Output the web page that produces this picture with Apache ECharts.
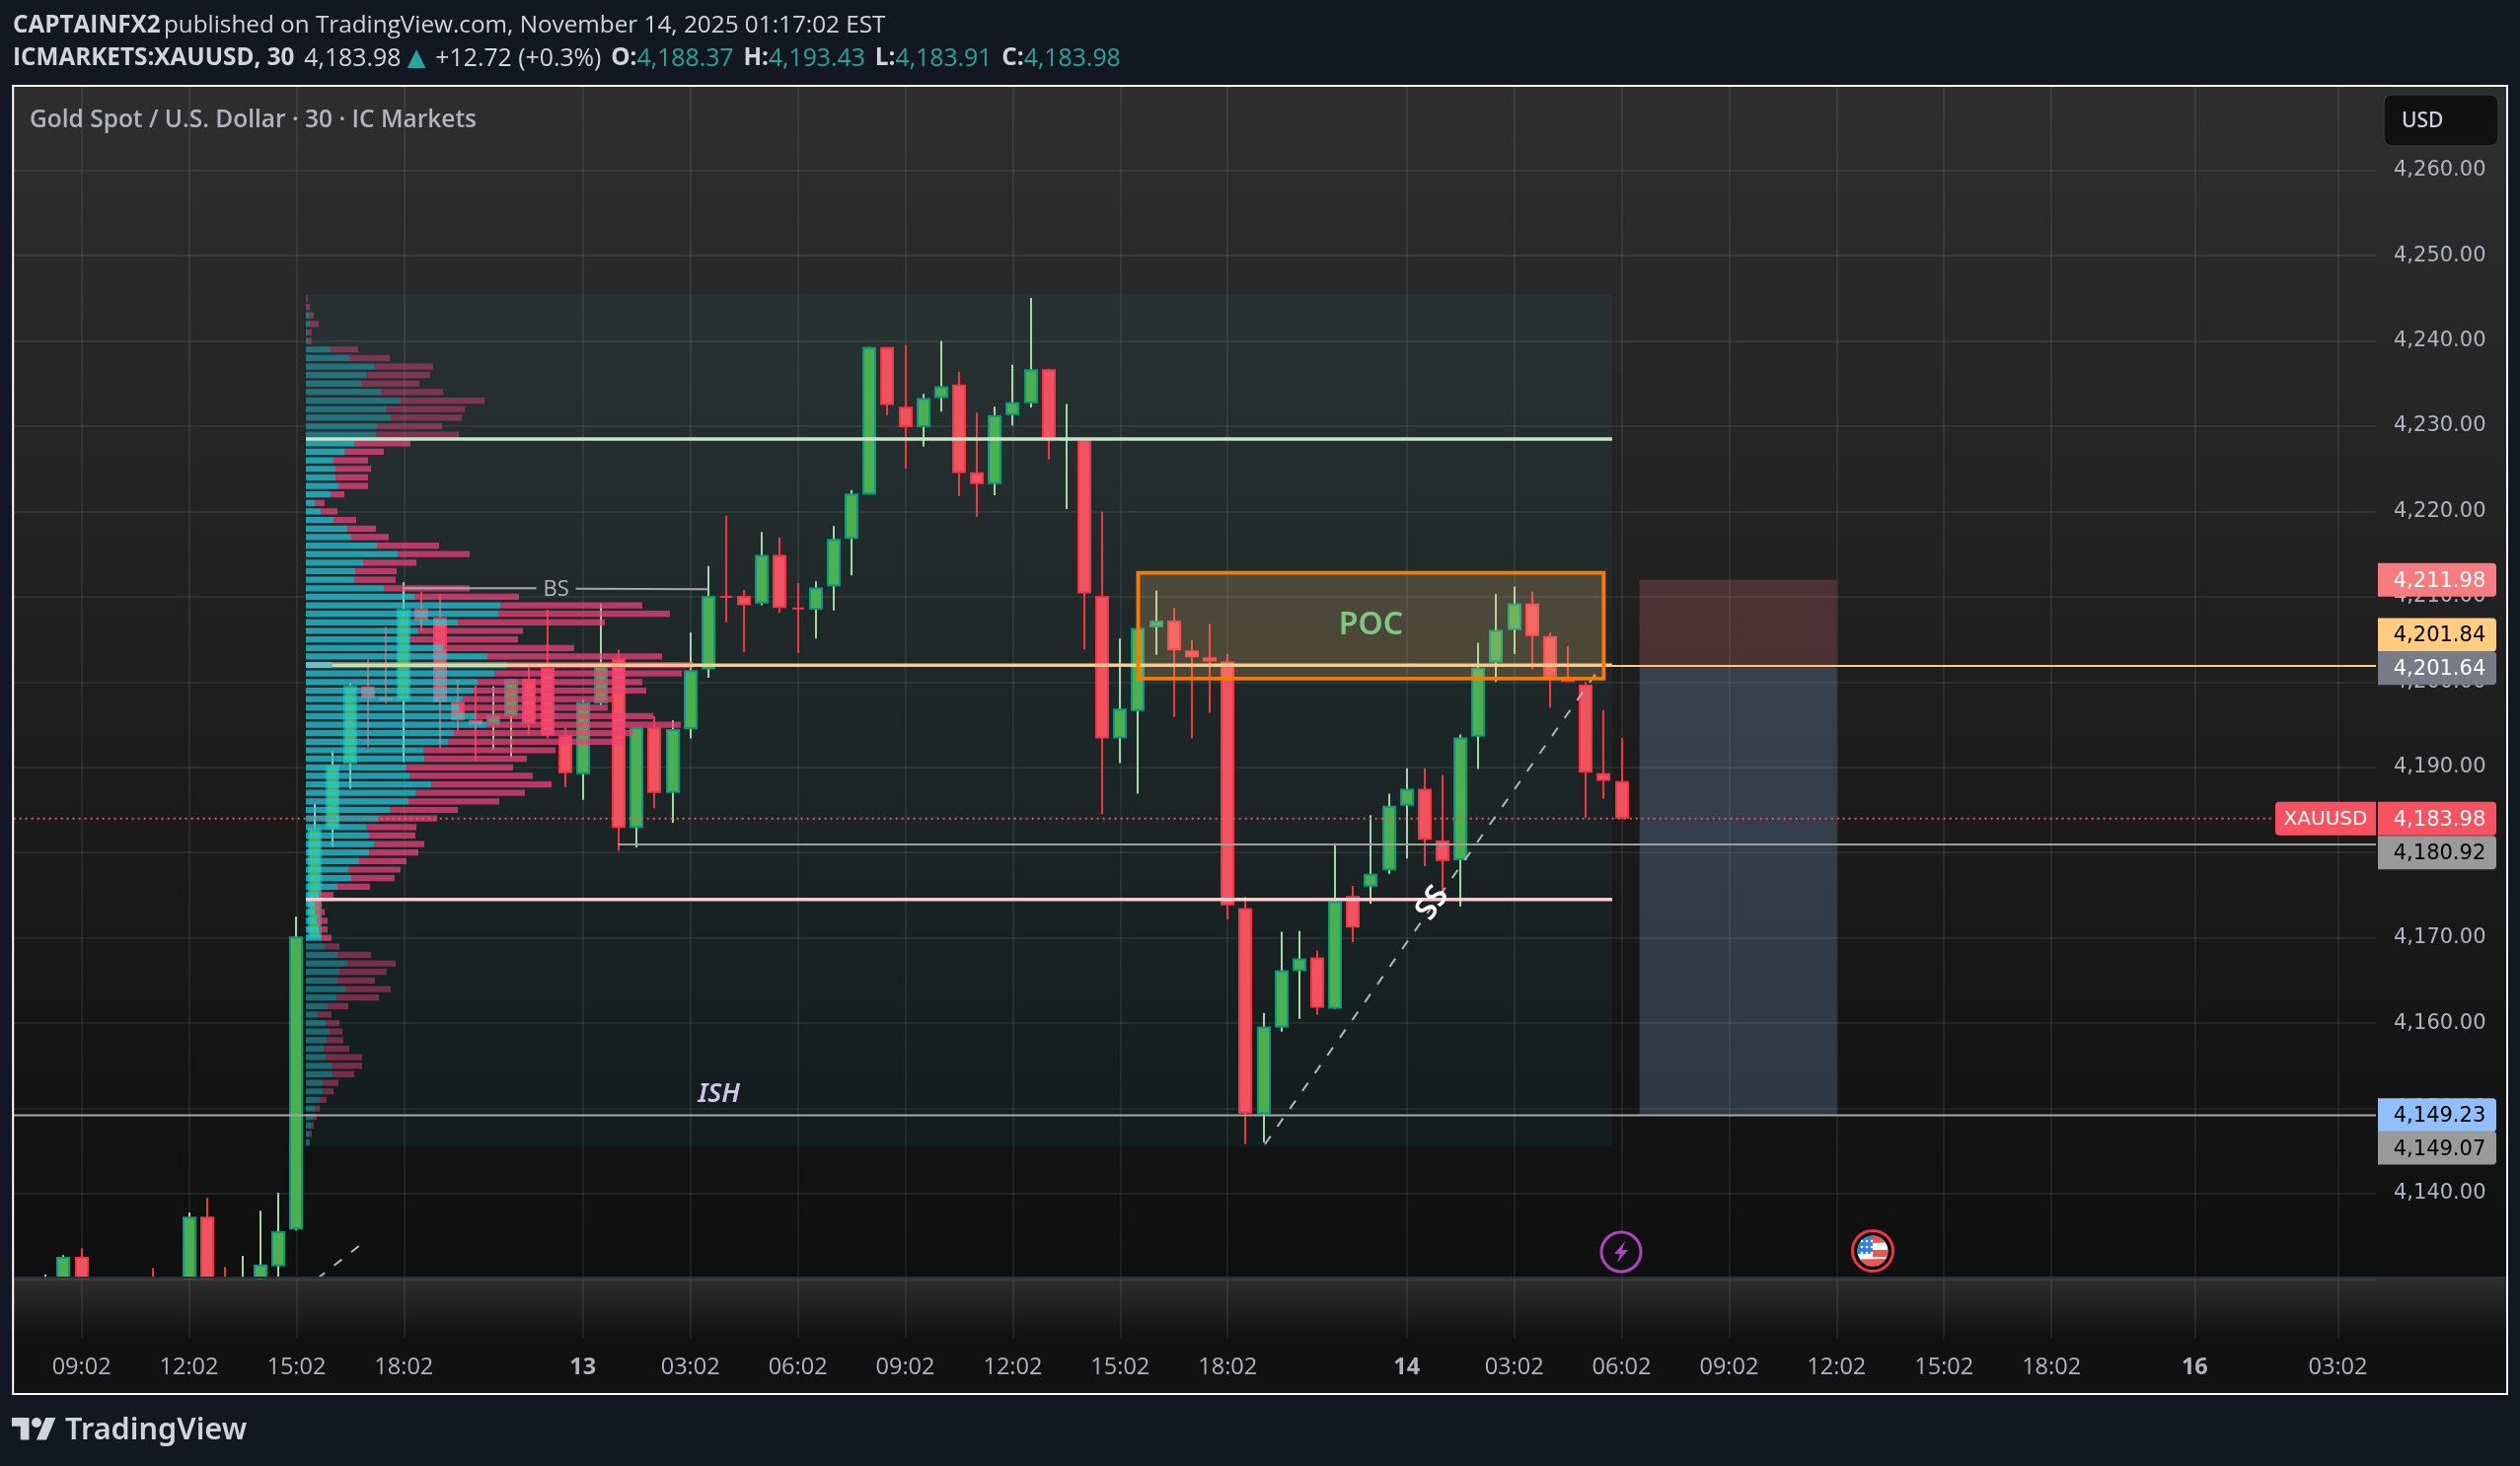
<!DOCTYPE html>
<html>
<head>
<meta charset="utf-8">
<style>html,body{margin:0;padding:0;background:#131722;}#c{width:2554px;height:1486px;}</style>
<script src="https://cdn.jsdelivr.net/npm/echarts@6/dist/echarts.min.js"></script>
</head>
<body>
<div id="c"></div>
<script>
// ---------- DATA ----------
const firstBar = -2;
const opens = [4126,4126,4132.6,4127,4126,4127,4128,4127,4128,4137.3,4129,4127,4129,4131.5,4135.8,4170,4182.8,4190.4,4199.5,4198.2,4197.8,4208.6,4207.6,4197.65,4195.6,4194.9,4196,4200.4,4201.7,4193.75,4189.2,4197.5,4202.8,4182.9,4194.7,4187,4194.5,4201.5,4210.1,4210.1,4209.2,4214.9,4208.75,4208.5,4211.2,4216.8,4222,4239.3,4232.3,4229.9,4233.3,4234.9,4224.6,4223.2,4231.3,4232.7,4236.7,4228.4,4228.4,4210.1,4193.4,4196.6,4206.4,4207.2,4203.7,4202.9,4202.4,4173.5,4149.3,4159.5,4166.1,4167.7,4161.7,4174.9,4176,4177.9,4185.5,4187.5,4181.4,4179.1,4193.6,4202.3,4206.1,4209.2,4205.4,4200.3,4199.7,4189.3,4188.37];
const highs = [4130.5,4132.8,4133.6,4129,4128,4129.5,4131.3,4129,4137.8,4139.5,4131.4,4132.7,4138,4140.1,4172.5,4185.7,4191.9,4199.9,4202.6,4206.5,4211.7,4210.6,4210.3,4200.2,4199.6,4199.5,4200.35,4201.7,4208.5,4194.7,4197.9,4209.2,4203.8,4194.7,4196,4195.5,4205.8,4213.6,4219.5,4210.8,4217.6,4217,4211.6,4211.8,4218.3,4222.5,4239.3,4239.3,4239.5,4233.8,4240,4236.4,4231.6,4232.3,4237.2,4245.05,4236.7,4232.6,4228.5,4220,4205.1,4206.4,4210.7,4208.7,4204.9,4206.8,4203.3,4174.8,4161.2,4170.7,4170.8,4168.5,4181.1,4176.1,4184.4,4186.9,4189.9,4189.9,4189.1,4193.86,4204.6,4210.3,4211.2,4210.6,4205.8,4204.2,4200,4196.7,4193.43];
const lows = [4125,4125,4126,4125,4124,4125,4125,4125,4127,4127,4126,4126,4128,4129,4135.7,4170,4180.7,4187.5,4192.4,4197.5,4190.6,4205.9,4192.2,4194.1,4190.7,4192.1,4191.2,4193.8,4193.4,4187.7,4186.2,4197.3,4180.2,4180.6,4185.2,4183.5,4193.4,4200.5,4207,4203.5,4209,4208.1,4203.4,4205.1,4208.4,4212.5,4222,4231.3,4225,4227.6,4231.7,4221.8,4219.4,4221.9,4230.1,4232.2,4226.1,4220.3,4203.8,4184.5,4190.5,4186.9,4203.2,4195.9,4193.4,4196.4,4172.2,4145.8,4146,4159,4160.5,4161,4161.7,4169.5,4174,4177.5,4179.3,4178.4,4174.7,4173.7,4189.8,4200,4203.3,4201.5,4197,4200,4184.1,4186.3,4183.91];
const closes = [4128,4132.6,4127,4126,4127,4126,4127,4128,4137.3,4129,4127,4129,4131.7,4135.6,4170.15,4182.9,4190.3,4199.6,4198.1,4197.8,4208.6,4207.3,4197.65,4195.5,4195,4196.1,4200.35,4195.1,4193.7,4189.3,4197.6,4202.1,4182.9,4194.7,4187,4194.5,4201.4,4210.1,4210,4209,4214.9,4208.7,4208.7,4211.1,4216.8,4222.1,4239.3,4232.5,4229.9,4233.3,4234.7,4224.5,4223.2,4231.3,4232.8,4236.7,4228.5,4228.5,4210.4,4193.4,4196.9,4206.35,4207.2,4203.7,4202.9,4202.4,4173.8,4149.4,4159.6,4166.2,4167.6,4161.8,4174.3,4171.2,4177.5,4185.5,4187.5,4181.5,4179,4193.5,4201.7,4206.1,4209.2,4205.4,4200.6,4200,4189.4,4188.4,4183.98];

const timeTicks = [0,6,12,18,28,34,40,46,52,58,64,74,80,86,92,98,104,110,118,126];
const timeLabels = ['09:02','12:02','15:02','18:02','13','03:02','06:02','09:02','12:02','15:02','18:02','14','03:02','06:02','09:02','12:02','15:02','18:02','16','03:02'];
const dayLabels = ['13','14','16'];

// Volume profile, one row per 1.00 of price, from the top row down
const profileTop = 4245;
const profileUp = [0,0,3.3,4,2,2,25,44,69,61,56,76,96,81,86,72,71,49,39,28,30,30,33,25,9,15,28,42,46,72,93,58,50,49,79,110,197,195,154,113,105,139,184,204,191,174,170,159,155,172,183,150,144,119,120,102,105,127,111,104,85,74,61,64,69,64,54,43,46,32,13,9,9,11,13,16,19,32,42,34,32,40,31,22,12,20,24,21,18,20,26,27,17,17,14,9,8,5,3,3];
const profileDown = [2,4,4.7,9,4,4,28,41,60,65,59,63,85,80,72,66,84,57,40,35,36,33,30,14,10,17,23,29,38,63,73,54,42,42,87,106,144,174,149,107,110,133,177,189,190,167,175,151,151,180,197,182,178,134,104,108,125,122,111,92,69,59,51,47,51,50,48,53,44,33,15,7,10,11,9,10,15,34,49,48,38,46,43,21,14,14,13,17,26,37,31,22,16,11,7,5,3,3,3,1];
const valueAreaHigh = 4228, valueAreaLow = 4170;
const profileBox = [12.53, 85.47, 4245.5, 4145.5];

const pocBox = [59, 85, 4212.8, 4200.4];
const riskBox = [87, 98, 4211.98, 4201.64];
const rewardBox = [87, 98, 4201.64, 4149.23];

// [bar from, price from, bar to, price to]
const levelSegments = [
  [12.53,4228.5,85.47,4228.5],
  [12.53,4174.5,85.47,4174.5],
  [14,4201.97,85.47,4201.97],
  [85.47,4201.9,128.2,4201.9],
  [29.95,4180.96,128.2,4180.96],
  [-3.8,4149.2,128.2,4149.2],
  [17.95,4211.0,25.4,4211.0],
  [27.6,4210.95,34.95,4210.9],
  [12.53,4202,14,4202],
  [-3.8,4183.98,122.3,4183.98],
  [66.08,4145.8,85,4202.3],
  [13.15,4130,15.57,4134]
];

const priceTagValues = [4211.98,4201.84,4201.64,4183.98,4180.92,4149.23,4149.07];
const priceTagTexts = ['4,211.98','4,201.84','4,201.64','4,183.98','4,180.92','4,149.23','4,149.07'];

const notes = [
  ['BS',26.5,4210.85],
  ['POC',72,4206.67],
  ['SS',75.45,4174.06],
  ['ISH',35.6,4151.65]
];

// ---------- STYLES ----------
const GREEN={body:'#4caf50',edge:'#089981',wick:'#a5d6a7'};
const RED={body:'#f0525f',edge:'#f23645',wick:'#f23645'};
const segStyles=[
  {s:'#c8e6c9',w:3.4},{s:'#f8cdd0',w:3.4},{s:'#ffcc80',w:3.4},{s:'#ffcc80',w:2},
  {s:'#9e9e9e',w:2},{s:'#a8a8a8',w:2},{s:'#a8a8a8',w:2},{s:'#a8a8a8',w:2},
  {s:'rgba(210,240,230,0.4)',w:6},{s:'#f7525f',w:2,d:[2,4]},
  {s:'#b2b5be',w:2,d:[10,12]},{s:'#b2b5be',w:2,d:[10,12]}
];
const tagStyles=[
  {bg:'#f77c80',fg:'#ffffff',dy:0},{bg:'#ffcc80',fg:'#000000',dy:-32},{bg:'#787b86',fg:'#ffffff',dy:0},
  {bg:'#f7525f',fg:'#ffffff',dy:0},{bg:'#9a9a9a',fg:'#000000',dy:8},{bg:'#90bff9',fg:'#000000',dy:0},{bg:'#9a9a9a',fg:'#000000',dy:32}
];
const noteStyles=[
  {font:'22px "Open Sans"',fill:'#b2b5be',rot:0},
  {font:'600 32px "Noto Sans"',fill:'#81c784',rot:0},
  {font:'600 31px "Noto Sans"',fill:'#ffffff',rot:0.96},
  {font:'italic 600 27px "Noto Sans"',fill:'#d1c4e9',rot:0}
];
const SANS='"Open Sans"';
const PRICE='"DejaVu Sans"';

// ---------- SERIES HELPERS ----------
function boxSeries(box,z,fill,stroke,lw){
  return {type:'custom',coordinateSystem:'cartesian2d',z:z,clip:true,silent:true,
    data:[box],encode:{x:[0,1],y:[2,3]},
    renderItem:function(p,api){
      const a=api.coord([api.value(0),api.value(2)]),b=api.coord([api.value(1),api.value(3)]);
      return {type:'rect',shape:{x:a[0],y:a[1],width:b[0]-a[0],height:b[1]-a[1]},style:{fill:fill,stroke:stroke||null,lineWidth:lw||0}};
    }};
}
const candleData=opens.map((o,i)=>[firstBar+i,o,closes[i],lows[i],highs[i]]);

const option={
  animation:false,
  backgroundColor:'#131722',
  grid:{left:14,top:86.3,width:2394,height:1210.1,containLabel:false},
  xAxis:[{
    type:'value',min:-3.78,max:128.12,position:'bottom',
    axisLine:{show:false},
    axisTick:{show:true,length:60,customValues:timeTicks,lineStyle:{color:'rgba(255,255,255,0.07)',width:2}},
    splitLine:{show:true,lineStyle:{color:'rgba(255,255,255,0.07)',width:2}},
    axisLabel:{show:true,customValues:timeTicks,margin:77.5,fontFamily:SANS,fontSize:23.5,color:'#b2b5be',hideOverlap:false,
      rich:{d:{fontFamily:SANS,fontSize:23.5,fontWeight:700,color:'#b2b5be'}},
      formatter:function(v){const t=timeLabels[timeTicks.indexOf(v)];return dayLabels.indexOf(t)>=0?'{d|'+t+'}':t;}}
  },{
    type:'value',min:-296,max:2098,show:false,splitLine:{show:false}
  }],
  yAxis:[{
    type:'value',min:4130,max:4270,interval:10,position:'right',
    axisLine:{show:false},axisTick:{show:false},
    splitLine:{show:true,lineStyle:{color:'rgba(255,255,255,0.07)',width:2}},
    axisLabel:{show:true,margin:18,padding:[3,0,0,0],showMinLabel:false,showMaxLabel:false,fontFamily:PRICE,fontSize:21,color:'#b2b5be',
      formatter:function(v){return v.toLocaleString('en-US',{minimumFractionDigits:2,maximumFractionDigits:2});}}
  }],
  series:[
    boxSeries(profileBox,1,'rgba(33,170,190,0.07)'),
    boxSeries(riskBox,1,'rgba(236,118,127,0.22)'),
    boxSeries(rewardBox,1,'rgba(144,191,249,0.22)'),
    {type:'custom',name:'XAUUSD',coordinateSystem:'cartesian2d',z:2,clip:true,silent:true,
      data:candleData,encode:{x:0,y:[1,2,3,4]},
      renderItem:function(p,api){
        const x=api.value(0),o=api.value(1),c=api.value(2),l=api.value(3),h=api.value(4);
        const up=c>=o,col=up?GREEN:RED;
        const cx=Math.round(api.coord([x,o])[0]);
        const yh=api.coord([x,h])[1],yl=api.coord([x,l])[1];
        const yt=api.coord([x,Math.max(o,c)])[1],yb=api.coord([x,Math.min(o,c)])[1];
        return {type:'group',children:[
          {type:'rect',shape:{x:cx-1,y:yh,width:2,height:yl-yh},style:{fill:col.wick}},
          {type:'rect',shape:{x:cx-6,y:yt+1,width:12,height:Math.max(yb-yt-2,0)},style:{fill:col.body,stroke:col.edge,lineWidth:2}}
        ]};
      }},
    {type:'custom',name:'Volume profile',coordinateSystem:'cartesian2d',xAxisIndex:1,z:3,clip:true,silent:true,
      data:profileUp.map((u,i)=>[u,profileDown[i],profileTop-i]),encode:{x:0,y:2},
      renderItem:function(p,api){
        const u=api.value(0),d=api.value(1),v=api.value(2);
        const a=(v<=valueAreaHigh&&v>=valueAreaLow)?0.75:0.45;
        const h=api.size([0,1])[1]*0.72;
        const p0=api.coord([0,v]),p1=api.coord([u,v]),p2=api.coord([u+d,v]);
        return {type:'group',children:[
          {type:'rect',shape:{x:p0[0],y:p0[1]-h/2,width:p1[0]-p0[0],height:h},style:{fill:'rgba(38,198,218,'+a+')'}},
          {type:'rect',shape:{x:p1[0],y:p0[1]-h/2,width:p2[0]-p1[0],height:h},style:{fill:'rgba(236,64,122,'+a+')'}}
        ]};
      }},
    {type:'custom',name:'Levels',coordinateSystem:'cartesian2d',z:4,clip:true,silent:true,
      data:levelSegments,encode:{x:[0,2],y:[1,3]},
      renderItem:function(p,api){
        const a=api.coord([api.value(0),api.value(1)]),b=api.coord([api.value(2),api.value(3)]);
        const s=segStyles[p.dataIndex];
        return {type:'line',shape:{x1:a[0],y1:a[1],x2:b[0],y2:b[1]},style:{stroke:s.s,lineWidth:s.w,lineDash:s.d||null}};
      }},
    boxSeries(pocBox,5,'rgba(255,200,120,0.2)','#f57c00',3.8),
    {type:'custom',name:'Notes',coordinateSystem:'cartesian2d',z:6,clip:false,silent:true,
      data:notes.map(n=>[n[1],n[2]]),encode:{x:0,y:1},
      renderItem:function(p,api){
        const c=api.coord([api.value(0),api.value(1)]),s=noteStyles[p.dataIndex];
        return {type:'text',x:c[0],y:c[1],rotation:s.rot,style:{text:notes[p.dataIndex][0],font:s.font,fill:s.fill,textAlign:'center',textVerticalAlign:'middle'}};
      }},
    {type:'custom',name:'Price tags',coordinateSystem:'cartesian2d',z:7,clip:false,silent:true,
      data:priceTagValues.map(v=>[0,v]),encode:{x:0,y:1},
      renderItem:function(p,api){
        const i=p.dataIndex,y=api.coord([0,api.value(1)])[1]+tagStyles[i].dy,st=tagStyles[i];
        const kids=[
          {type:'rect',shape:{x:2410,y:y-17,width:120,height:34,r:[0,4,4,0]},style:{fill:st.bg}},
          {type:'text',x:2472.5,y:y+1.5,style:{text:priceTagTexts[i],font:'21px '+PRICE,fill:st.fg,textAlign:'center',textVerticalAlign:'middle'}}
        ];
        if(i===3){kids.push(
          {type:'rect',shape:{x:2306,y:y-17,width:102,height:34,r:[4,0,0,4]},style:{fill:st.bg}},
          {type:'text',x:2357,y:y+1,style:{text:'XAUUSD',font:'500 20px '+PRICE,fill:'#ffffff',textAlign:'center',textVerticalAlign:'middle'}}
        );}
        return {type:'group',children:kids};
      }}
  ],
  graphic:{elements:(function(){
    const G=echarts.graphic.LinearGradient;
    const els=[
      {type:'rect',z:-10,shape:{x:14,y:88,width:2526,height:1206},style:{fill:new G(0,0,0,1,[{offset:0,color:'#2e2e2e'},{offset:1,color:'#0f0f0f'}])}},
      {type:'rect',z:-9,shape:{x:14,y:1296,width:2526,height:60},style:{fill:new G(0,0,0,1,[{offset:0,color:'#2e2e2e'},{offset:1,color:'#111111'}])}},
      {type:'rect',z:-9,shape:{x:14,y:1356,width:2526,height:56},style:{fill:'#111111'}},
      {type:'rect',z:50,shape:{x:14,y:1294,width:2526,height:2.4},style:{fill:'#2a2e39'}},
      {type:'rect',z:60,shape:{x:13.2,y:87,width:2527.8,height:1326},style:{fill:'none',stroke:'#ffffff',lineWidth:2}},
      {type:'rect',z:60,shape:{x:2416,y:96,width:116,height:52,r:8},style:{fill:'#111111',stroke:'#363636',lineWidth:1.5}},
      {type:'text',z:61,x:2434,y:123.5,style:{text:'USD',font:'500 21px "Noto Sans"',fill:'#d1d4dc',textVerticalAlign:'middle'}},
      {type:'text',z:61,x:30,y:122,style:{text:'Gold Spot / U.S. Dollar · 30 · IC Markets',font:'600 24.5px '+SANS,fill:'#b2b5be',textVerticalAlign:'middle'}},
      {type:'text',z:61,x:13,y:26.5,style:{text:'{b|CAPTAINFX2} {r|published on TradingView.com, November 14, 2025 01:17:02 EST}',textVerticalAlign:'middle',
        rich:{b:{fontFamily:SANS,fontSize:24.3,fontWeight:700,fill:'#d1d4dc'},r:{fontFamily:SANS,fontSize:24.3,fill:'#d1d4dc'}}}},
      {type:'text',z:61,x:13,y:59.5,style:{text:'{b|ICMARKETS:XAUUSD, 30}{s| }{r|4,183.98}{tri|▲}{u| }{r|+12.72 (+0.3%)}{s| }{b|O:}{t|4,188.37}{s| }{b|H:}{t|4,193.43}{s| }{b|L:}{t|4,183.91}{s| }{b|C:}{t|4,183.98}',textVerticalAlign:'middle',
        rich:{b:{fontFamily:SANS,fontSize:24.3,fontWeight:700,fill:'#d1d4dc'},r:{fontFamily:SANS,fontSize:24.8,fill:'#d1d4dc'},t:{fontFamily:SANS,fontSize:24.8,fill:'#26a69a'},tri:{fontFamily:SANS,fontSize:32,fill:'#26a69a'},s:{fontFamily:SANS,fontSize:38},u:{fontFamily:SANS,fontSize:13}}}},
      // TradingView mark
      {type:'group',z:61,x:12,y:1432,scaleX:1.25,scaleY:1.25,children:[
        {type:'polygon',z:61,shape:{points:[[0,4],[14,4],[14,22],[7,22],[7,11],[0,11]]},style:{fill:'#d1d4dc'}},
        {type:'polygon',z:61,shape:{points:[[20,22],[27.5,4],[35.5,4],[28,22]]},style:{fill:'#d1d4dc'}},
        {type:'circle',z:61,shape:{cx:20,cy:8,r:4},style:{fill:'#d1d4dc'}}
      ]},
      {type:'text',z:61,x:66,y:1450.5,style:{text:'TradingView',font:'600 30.7px "Noto Sans"',fill:'#d1d4dc',textVerticalAlign:'middle'}},
      // event markers
      {type:'circle',z:40,shape:{cx:1643,cy:1269,r:20},style:{fill:'#111111',stroke:'#ab47bc',lineWidth:3}},
      {type:'polygon',z:41,shape:{points:[[1647,1258],[1636,1271],[1642,1271],[1639,1280],[1650,1267],[1644,1267]]},style:{fill:'#ab47bc'}},
      {type:'circle',z:40,shape:{cx:1898,cy:1268,r:20.5},style:{fill:'#000000',stroke:'#f23645',lineWidth:3}},
      {type:'circle',z:41,shape:{cx:1898,cy:1268,r:15.5},style:{fill:'#f7f7f7'}}
    ];
    // flag stripes
    [[-15.4,-8,0],[-1,6,0],[8,15.4,1]].forEach(function(b){
      const pts=[];
      for(let y=b[0];y<=b[1];y+=1){pts.push([1898+Math.sqrt(Math.max(0,15.5*15.5-y*y)),1268+y]);}
      for(let y=b[1];y>=b[0];y-=1){const c=Math.sqrt(Math.max(0,15.5*15.5-y*y));pts.push([b[2]?1898-c:1898,1268+y]);}
      els.push({type:'polygon',z:42,shape:{points:pts},style:{fill:'#ef5350'}});
    });
    const cp=[];
    for(let y=-15;y<=3;y+=1){cp.push([1898-Math.sqrt(Math.max(0,15.5*15.5-y*y)),1268+y]);}
    cp.push([1898,1271],[1898,1253]);
    els.push({type:'polygon',z:43,shape:{points:cp},style:{fill:'#2f80ed'}});
    [-10,-4,2].forEach(function(dy){[-11,-6,-1].forEach(function(dx){
      els.push({type:'circle',z:44,shape:{cx:1898+dx,cy:1268+dy,r:1.3},style:{fill:'#ffffff'}});
    });});
    return els;
  })()}
};
const chart=echarts.init(document.getElementById('c'),null,{width:2554,height:1486,renderer:'canvas'});
chart.setOption(option);
</script>
</body>
</html>
